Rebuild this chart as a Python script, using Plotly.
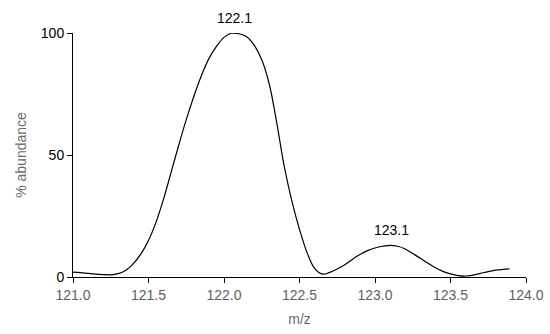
import plotly.graph_objects as go

mz = [121.00, 121.05, 121.10, 121.15, 121.20, 121.25, 121.30, 121.35, 121.40, 121.45,
      121.50, 121.55, 121.60, 121.65, 121.70, 121.75, 121.80, 121.85, 121.90, 121.95,
      122.00, 122.05, 122.10, 122.15, 122.20, 122.25, 122.30, 122.35, 122.40, 122.45,
      122.50, 122.55, 122.60, 122.65, 122.70, 122.75, 122.80, 122.85, 122.90, 122.95,
      123.00, 123.05, 123.10, 123.15, 123.20, 123.25, 123.30, 123.35, 123.40, 123.45,
      123.50, 123.55, 123.60, 123.65, 123.70, 123.75, 123.80, 123.85, 123.89]
abundance = [2.0, 1.8, 1.5, 1.2, 1.0, 0.9, 1.4, 2.8, 5.5, 9.5,
             15.0, 22.5, 32.0, 43.0, 54.0, 64.5, 74.0, 82.5, 89.5, 94.5,
             98.2, 99.9, 99.7, 98.5, 95.0, 89.0, 79.0, 63.0, 45.0, 31.0,
             19.5, 10.0, 3.5, 1.2, 1.9, 3.3, 5.0, 7.2, 9.2, 10.8,
             11.9, 12.6, 13.0, 12.6, 11.5, 9.6, 7.7, 5.7, 3.8, 2.3,
             1.3, 0.6, 0.4, 0.8, 1.5, 2.2, 2.8, 3.1, 3.3]
peak_x = [122.07, 123.11]
peak_y = [100.0, 13.0]
peak_labels = ["122.1", "123.1"]
x_ticks = [121.0, 121.5, 122.0, 122.5, 123.0, 123.5, 124.0]
y_ticks = [0, 50, 100]

FONT = "Liberation Sans, Arial, sans-serif"
fig = go.Figure()
fig.add_trace(go.Scatter(x=mz, y=abundance, mode="lines",
                         line=dict(color="black", width=1.2, shape="spline", smoothing=1.0),
                         hoverinfo="skip", cliponaxis=False))
for px, py, lab in zip(peak_x, peak_y, peak_labels):
    fig.add_annotation(x=px, y=py, text=lab, showarrow=False, yshift=15,
                       font=dict(family=FONT, size=14, color="black"))

fig.update_layout(
    width=550, height=334,
    margin=dict(l=73, r=24, t=33, b=57),
    paper_bgcolor="white", plot_bgcolor="white",
    showlegend=False,
    font=dict(family=FONT, size=14),
    xaxis=dict(range=[121.0, 124.0], tickvals=x_ticks, tickformat=".1f", automargin=False,
               showgrid=False, zeroline=False, showline=True, linecolor="black", linewidth=1,
               ticks="outside", ticklen=5, tickcolor="black",
               tickfont=dict(family=FONT, size=14, color="#5f5f5f"),
               title=dict(text="m/z", font=dict(family=FONT, size=14, color="#6a6a6a"), standoff=12)),
    yaxis=dict(range=[0, 100], tickvals=y_ticks, automargin=False,
               showgrid=False, zeroline=False, showline=True, linecolor="black", linewidth=1,
               ticks="outside", ticklen=5, tickcolor="black",
               tickfont=dict(family=FONT, size=14, color="black"),
               title=dict(text="% abundance", font=dict(family=FONT, size=14, color="#6a6a6a"), standoff=10)),
)
fig.write_html("out.html")
